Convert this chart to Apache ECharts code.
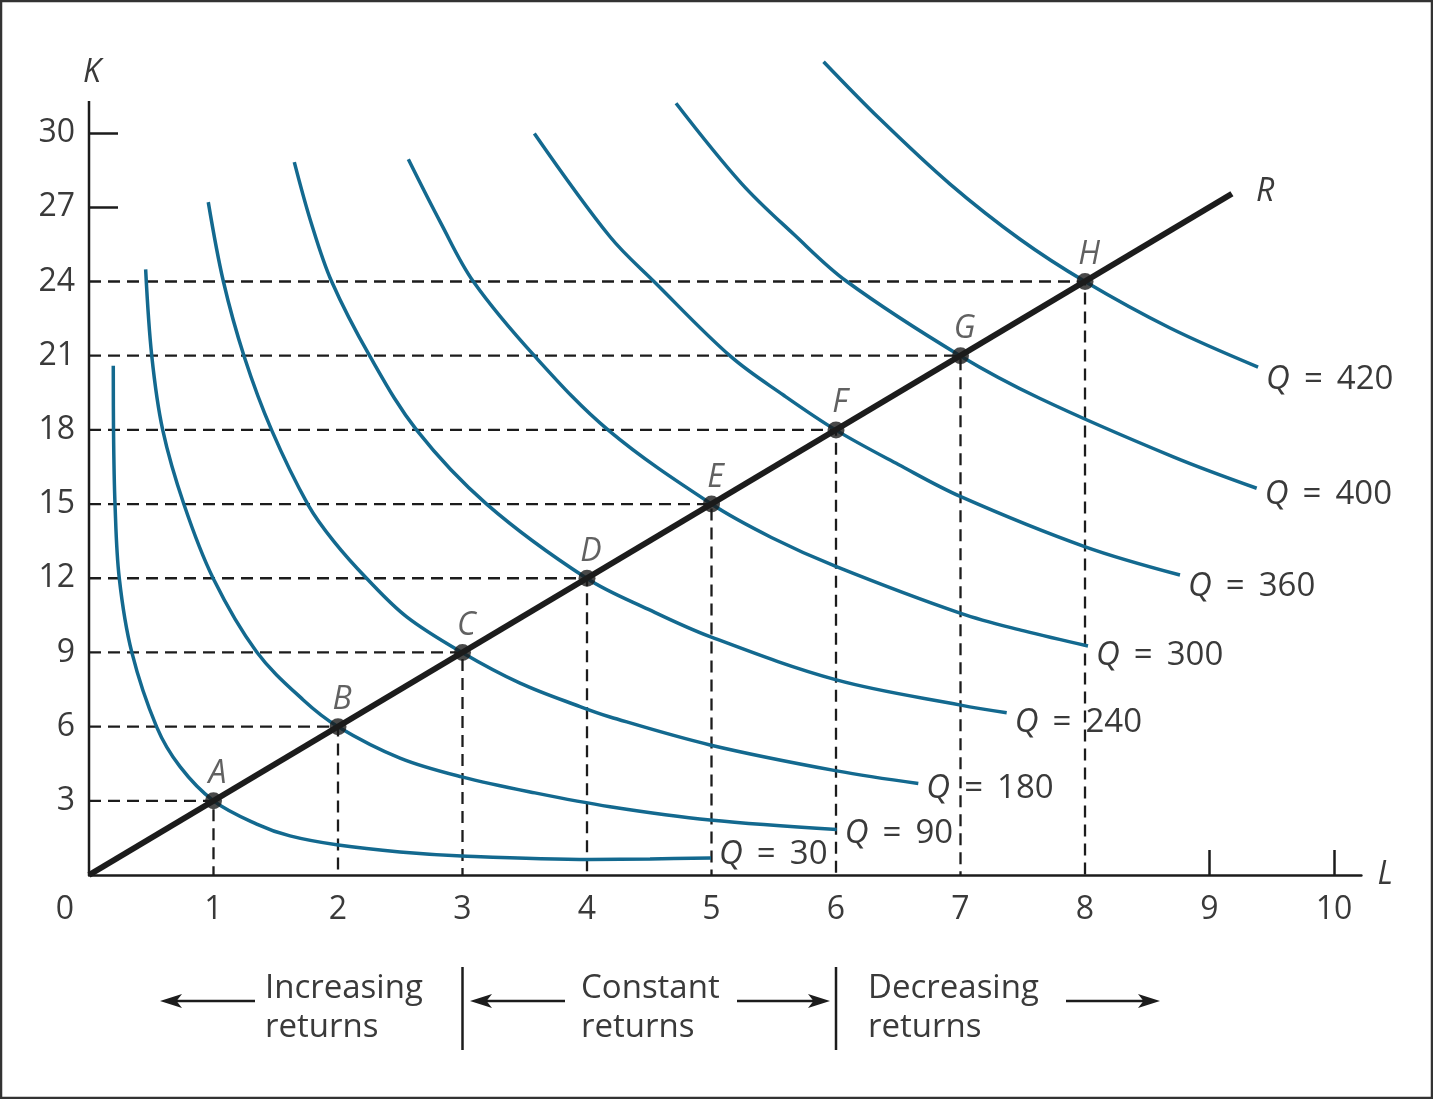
<!DOCTYPE html>
<html><head><meta charset="utf-8">
<script src="https://cdn.jsdelivr.net/npm/echarts@6/dist/echarts.min.js"></script>
<style>html,body{margin:0;padding:0;background:#fff}#c{width:1433px;height:1099px}</style>
</head><body><div id="c"></div>
<script>
// ---- data ----
const xTickLabels = [0,1,2,3,4,5,6,7,8,9,10];
const yTickLabels = [3,6,9,12,15,18,21,24,27,30];
const pointNames = ['A','B','C','D','E','F','G','H'];
const pointL = [1,2,3,4,5,6,7,8];
const pointK = [3,6,9,12,15,18,21,24];
const rayEnd = [9.18, 27.55];
const yAxisTop = 31.3;
const isoLevels = [30, 90, 180, 240, 300, 360, 400, 420];
const q30  = [[0.195,20.59],[0.197,17.95],[0.209,14.99],[0.243,12.01],[0.343,9.02],[0.544,5.98],[0.731,4.38],[1,3],[1.347,2.06],[1.614,1.58],[2.002,1.21],[2.498,0.93],[2.994,0.77],[4.024,0.63],[4.506,0.65],[4.996,0.69]];
const q90  = [[0.455,24.49],[0.504,21.0],[0.592,18.0],[0.763,14.98],[0.998,11.99],[1.347,9.02],[1.721,7.08],[2,6],[2.498,4.73],[2.994,3.97],[3.582,3.32],[4.185,2.76],[4.988,2.22],[6.006,1.84]];
const q180 = [[0.958,27.21],[1.079,24.01],[1.247,20.96],[1.467,17.99],[1.761,14.96],[1.968,13.48],[2.231,11.99],[2.552,10.44],[2.996,9.0],[3.462,7.76],[3.944,6.81],[4.185,6.39],[4.988,5.26],[6.006,4.21],[6.661,3.70]];
const q240 = [[1.649,28.83],[1.783,26.40],[1.949,24.0],[2.257,20.97],[2.632,17.99],[3.194,15.0],[4,11.99],[4.494,10.74],[4.988,9.64],[6.003,7.89],[7.002,6.87],[7.371,6.56]];
const q300 = [[2.565,28.94],[2.826,26.36],[3.087,24.0],[3.582,20.97],[4.171,17.99],[5.0,15.0],[5.481,13.65],[6.003,12.47],[7.002,10.58],[7.510,9.87],[8.024,9.26]];
const q360 = [[3.577,29.99],[4.185,25.81],[4.538,24.0],[5.154,20.97],[5.577,19.41],[6,17.99],[6.501,16.60],[7.002,15.30],[8.002,13.27],[8.763,12.13]];
const q400 = [[4.715,31.21],[5.240,27.97],[5.663,25.90],[6.087,24.0],[7.0,20.99],[7.639,19.27],[8.709,16.91],[9.379,15.64]];
const q420 = [[5.900,32.89],[6.353,30.57],[6.916,27.94],[7.478,25.71],[8,24],[8.683,22.12],[9.390,20.54]];
const isoCurves = [q30, q90, q180, q240, q300, q360, q400, q420];
const regionTexts = ['Increasing\nreturns', 'Constant\nreturns', 'Decreasing\nreturns'];
const regionBounds = [3, 6];

// ---- style ----
const FONT = '"Open Sans", "Liberation Sans", sans-serif';
const TXT = '#3a3a3a';
const BLUE = '#13698f';
const INK = '#1c1c1c';
const labelDy = [-3, 4, 5, 10, 10, 12, 6, 13];

const chart = echarts.init(document.getElementById('c'), null, {renderer: 'canvas'});

const series = [];
// dashed guides
pointL.forEach((l, i) => {
  series.push({
    type: 'line', silent: true, clip: false, z: 1,
    symbol: 'none',
    data: [[0, pointK[i]], [l, pointK[i]], [l, 0]],
    lineStyle: {color: INK, width: 2.3, type: [12, 7]}
  });
});
// isoquants
isoCurves.forEach((c, i) => {
  series.push({
    type: 'line', silent: true, clip: false, z: 2,
    symbol: 'none', smooth: 0.35,
    data: c,
    lineStyle: {color: BLUE, width: 3.5},
    endLabel: {
      show: true, distance: 8, offset: [0, labelDy[i]],
      formatter: '{q|Q}{n| \u2009=\u2009 ' + isoLevels[i] + '}',
      rich: {
        q: {fontFamily: FONT, fontSize: 33, fontStyle: 'italic', color: TXT},
        n: {fontFamily: FONT, fontSize: 33, color: TXT}
      }
    }
  });
});
// y axis line (drawn as a series so it stops below the top of the curves)
series.push({
  type: 'line', silent: true, clip: false, z: 3, symbol: 'none',
  data: [[0, 0], [0, yAxisTop]],
  lineStyle: {color: INK, width: 2.5},
  endLabel: {show: true, formatter: 'K', distance: 0, offset: [-6, -28],
    fontFamily: FONT, fontSize: 32, fontStyle: 'italic', color: TXT}
});
// expansion path R
series.push({
  type: 'line', silent: true, clip: false, z: 4, symbol: 'none',
  data: [[0, 0], rayEnd],
  lineStyle: {color: INK, width: 6},
  endLabel: {show: true, formatter: 'R', distance: 24, offset: [0, -2],
    fontFamily: FONT, fontSize: 32, fontStyle: 'italic', color: TXT}
});
// points
series.push({
  type: 'scatter', silent: true, clip: false, z: 5,
  symbolSize: 17,
  itemStyle: {color: INK},
  data: pointL.map((l, i) => [l, pointK[i], pointNames[i]]),
  label: {show: true, position: 'top', distance: 2, offset: [4, 0],
    formatter: p => p.value[2],
    fontFamily: FONT, fontSize: 32, fontStyle: 'italic', color: TXT}
});

const option = {
  animation: false,
  backgroundColor: '#fff',
  grid: {left: 89, right: 71.6, top: 54, bottom: 224},
  xAxis: {
    type: 'value', min: 0, max: 10.22,
    name: 'L', nameLocation: 'end', nameGap: 16,
    nameTextStyle: {fontFamily: FONT, fontSize: 32, fontStyle: 'italic', color: TXT, padding: [6, 0, 0, 0]},
    axisLine: {show: true, onZero: false, lineStyle: {color: INK, width: 2.5}},
    axisTick: {show: true, inside: true, length: 25, customValues: [9, 10], lineStyle: {color: INK, width: 2.5}},
    axisLabel: {show: true, customValues: xTickLabels, margin: 19,
      fontFamily: FONT, fontSize: 32, color: TXT,
      formatter: v => v === 0 ? '{z|0}' : String(v),
      rich: {z: {fontFamily: FONT, fontSize: 32, color: TXT, padding: [0, 48, 0, 0]}}},
    splitLine: {show: false}
  },
  yAxis: {
    type: 'value', min: 0, max: 33.2,
    axisLine: {show: false},
    axisTick: {show: true, inside: true, length: 29, customValues: [27, 30], lineStyle: {color: INK, width: 2.5}},
    axisLabel: {show: true, customValues: yTickLabels, margin: 14,
      fontFamily: FONT, fontSize: 32, color: TXT, padding: [5, 0, 0, 0]},
    splitLine: {show: false}
  },
  series: series
};
chart.setOption(option);

// ---- bottom annotations ----
const px3 = chart.convertToPixel({xAxisIndex: 0}, regionBounds[0]);
const px6 = chart.convertToPixel({xAxisIndex: 0}, regionBounds[1]);
const AY = 1001;
function arrow(x1, x2) {
  const dir = x2 > x1 ? 1 : -1;
  const headLen = 22, hw = 7;
  return [
    {type: 'line', shape: {x1: x1, y1: AY, x2: x2 - dir * headLen * 0.7, y2: AY}, style: {stroke: INK, lineWidth: 2.5}},
    {type: 'polygon', shape: {points: [[x2, AY], [x2 - dir * headLen, AY - hw], [x2 - dir * headLen * 0.75, AY], [x2 - dir * headLen, AY + hw]]}, style: {fill: INK}}
  ];
}
function label(x, t) {
  return {type: 'text', x: x, y: 1008, style: {text: t, fontFamily: FONT, fontSize: 33, fill: TXT,
    align: 'left', verticalAlign: 'middle', lineHeight: 39}};
}
const graphics = [
  {type: 'rect', shape: {x: 1, y: 1, width: 1431, height: 1097}, style: {fill: 'none', stroke: '#333', lineWidth: 2.5}},
  {type: 'line', shape: {x1: px3, y1: 967, x2: px3, y2: 1050}, style: {stroke: INK, lineWidth: 2.5}},
  {type: 'line', shape: {x1: px6, y1: 967, x2: px6, y2: 1050}, style: {stroke: INK, lineWidth: 2.5}},
  ...arrow(255, 160),
  ...arrow(565, 470),
  ...arrow(737, 830),
  ...arrow(1066, 1160),
  label(265, regionTexts[0]),
  label(581, regionTexts[1]),
  label(868, regionTexts[2])
];
chart.setOption({graphic: graphics});
</script>
</body></html>
